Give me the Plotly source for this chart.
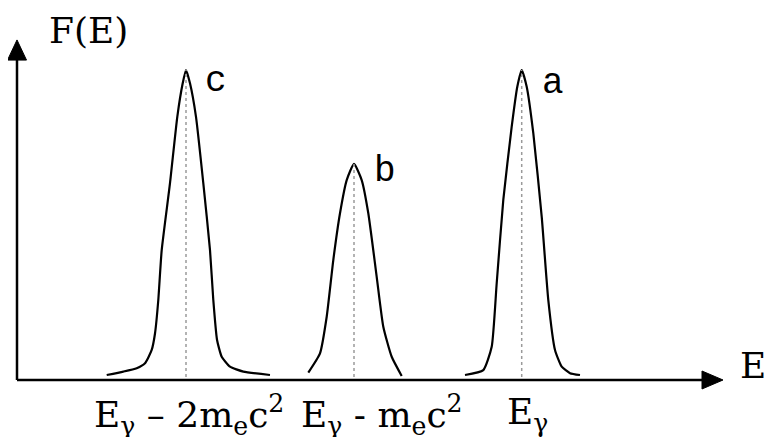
import plotly.graph_objects as go

# Peak c (E_gamma - 2 m_e c^2): energy (arb. units) and F(E) (normalised)
c_E = [0.897, 1.063, 1.197, 1.28, 1.347, 1.38, 1.413, 1.447, 1.53, 1.603, 1.657, 1.69,
       1.73, 1.79, 1.863, 1.93, 1.963, 2.0, 2.047, 2.13, 2.263, 2.53]
c_F = [0.016, 0.027, 0.038, 0.054, 0.097, 0.150, 0.258, 0.419, 0.635, 0.849, 0.957, 1.0,
       0.957, 0.849, 0.635, 0.419, 0.258, 0.130, 0.075, 0.043, 0.027, 0.016]

# Peak b (E_gamma - m_e c^2)
b_E = [2.913, 3.03, 3.097, 3.163, 3.23, 3.297, 3.37, 3.447, 3.513, 3.597, 3.663, 3.747, 3.847]
b_F = [0.024, 0.086, 0.204, 0.387, 0.538, 0.645, 0.697, 0.645, 0.538, 0.333, 0.172, 0.075, 0.013]

# Peak a (E_gamma)
a_E = [4.48, 4.663, 4.747, 4.797, 4.863, 4.947, 5.003, 5.047, 5.097, 5.163, 5.247, 5.313,
       5.38, 5.447, 5.53, 5.63]
a_F = [0.016, 0.032, 0.107, 0.312, 0.581, 0.817, 0.946, 1.0, 0.946, 0.796, 0.527, 0.258,
       0.097, 0.043, 0.022, 0.016]

peak_centres = [1.69, 3.37, 5.047]
peak_heights = [1.0, 0.697, 1.0]
peak_letters = ["c", "b", "a"]
letter_E = [1.985, 3.68, 5.355]
letter_F = [0.963, 0.673, 0.958]

tick_labels = ["E<sub>γ</sub> – 2m<sub>e</sub>c<sup>2</sup>",
               "E<sub>γ</sub> - m<sub>e</sub>c<sup>2</sup>",
               "E<sub>γ</sub>"]
tick_E = [1.72, 3.65, 5.10]

x_max = 7.06   # arrow tip of E axis
y_max = 1.097  # arrow tip of F axis

fig = go.Figure()

for E, F in [(c_E, c_F), (b_E, b_F), (a_E, a_F)]:
    fig.add_trace(go.Scatter(x=E, y=F, mode="lines",
                             line=dict(color="black", width=2.2, shape="spline", smoothing=0.5),
                             hoverinfo="skip", showlegend=False))

for xc, h in zip(peak_centres, peak_heights):
    fig.add_trace(go.Scatter(x=[xc, xc], y=[0.01, h], mode="lines",
                             line=dict(color="#9a9a9a", width=1.5, dash="dot"),
                             hoverinfo="skip", showlegend=False))

shapes = [
    dict(type="line", xref="x", yref="y", x0=0, y0=0, x1=x_max - 0.1, y1=0,
         line=dict(color="black", width=2.5)),
    dict(type="line", xref="x", yref="y", x0=0, y0=0, x1=0, y1=y_max - 0.04,
         line=dict(color="black", width=2.5)),
    dict(type="path", xref="x", yref="y",
         path=f"M {x_max} 0 L {x_max-0.21} 0.029 L {x_max-0.21} -0.029 Z",
         fillcolor="black", line=dict(color="black", width=1)),
    dict(type="path", xref="x", yref="y",
         path=f"M 0 {y_max} L -0.095 {y_max-0.065} L 0.095 {y_max-0.065} Z",
         fillcolor="black", line=dict(color="black", width=1)),
]

serif = "DejaVu Serif"
annotations = []
annotations.append(dict(x=0.71, y=1.127, text="F(E)", showarrow=False,
                        font=dict(family=serif, size=36, color="black")))
annotations.append(dict(x=7.36, y=0.048, text="E", showarrow=False,
                        font=dict(family=serif, size=36, color="black")))
for t, xe in zip(tick_labels, tick_E):
    annotations.append(dict(x=xe, y=-0.112, text=t, showarrow=False,
                            font=dict(family=serif, size=36, color="black")))
for L, xe, ye in zip(peak_letters, letter_E, letter_F):
    annotations.append(dict(x=xe, y=ye, text=L, showarrow=False,
                            font=dict(family="Liberation Mono", size=36, color="black")))

# the page body has an 8px default margin, so the ranges are offset by 8px to compensate
fig.update_layout(
    width=772, height=437,
    margin=dict(l=0, r=0, t=0, b=0),
    paper_bgcolor="white", plot_bgcolor="white",
    xaxis=dict(range=[-0.09, 7.63], visible=False, fixedrange=True),
    yaxis=dict(range=[-0.2097, 1.2], visible=False, fixedrange=True),
    shapes=shapes, annotations=annotations,
)

fig.write_html("out.html")
